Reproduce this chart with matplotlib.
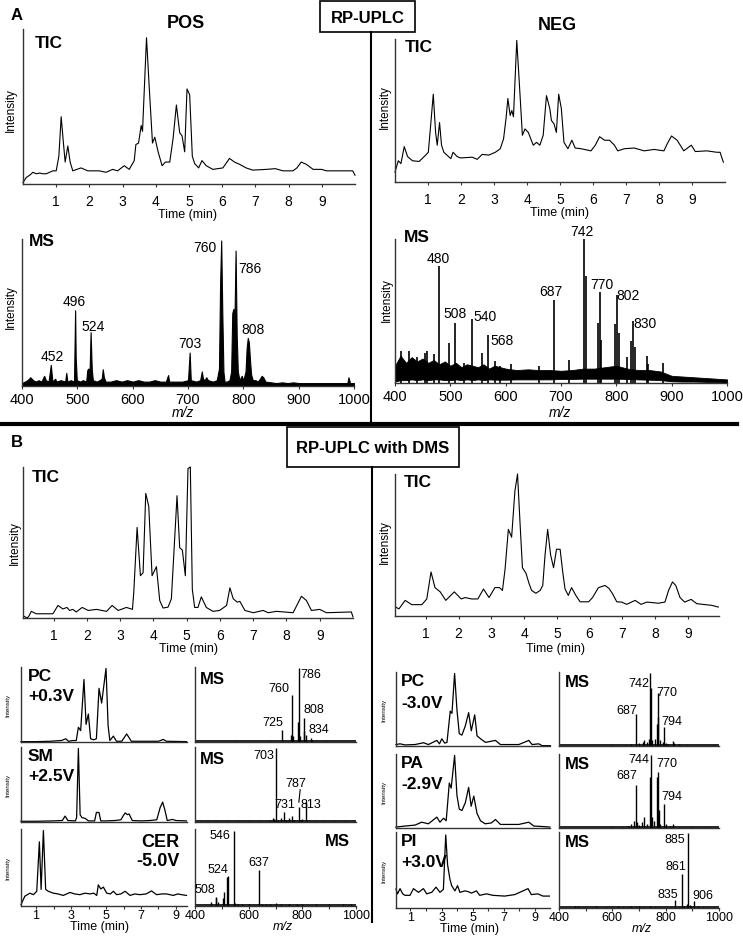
import matplotlib
matplotlib.use("Agg")
import matplotlib.pyplot as plt
from matplotlib.lines import Line2D
from matplotlib.patches import Rectangle
import numpy as np

plt.rcParams['font.family'] = ['Liberation Sans', 'DejaVu Sans']

W, H = 743, 937

# ---------------- data (time in min / m/z, relative intensity %) ----------------
# Panel A, RP-UPLC TIC
tic_pos_a = [(0, 1), (0.1, 4.5), (0.2, 6), (0.3, 8), (0.4, 7), (0.5, 7.5), (0.6, 7), (0.7, 7), (0.8, 8),
             (0.9, 9), (1.0, 9), (1.08, 19), (1.15, 46), (1.21, 30), (1.27, 15), (1.35, 26), (1.42, 15),
             (1.5, 9), (1.75, 11), (1.95, 9), (2.3, 9), (2.5, 8), (2.7, 10), (2.85, 9), (3.05, 12.5),
             (3.2, 10), (3.35, 16), (3.4, 27), (3.48, 28), (3.56, 40), (3.6, 36), (3.72, 100), (3.8, 67),
             (3.9, 28), (3.97, 32), (4.07, 22), (4.19, 12.5), (4.29, 15), (4.42, 15), (4.52, 31), (4.62, 54),
             (4.72, 35), (4.79, 33), (4.87, 22), (4.94, 65), (5.02, 61), (5.1, 19), (5.17, 14), (5.29, 11),
             (5.39, 16), (5.52, 12.5), (5.72, 10), (6.02, 11), (6.22, 17.5), (6.37, 15), (6.52, 13.5),
             (6.72, 11), (6.92, 9.5), (7.33, 10), (7.6, 10.5), (7.83, 9), (8.13, 9), (8.25, 11), (8.38, 15),
             (8.53, 13.5), (8.74, 10), (8.99, 10), (9.14, 9), (9.5, 9), (9.93, 9), (10, 6)]
tic_neg_a = [(0, 7), (0.1, 15), (0.18, 13), (0.28, 25), (0.38, 18), (0.53, 15), (0.73, 14.5), (0.93, 19),
             (1.01, 21), (1.08, 40), (1.16, 62), (1.23, 35), (1.28, 26), (1.35, 42), (1.41, 26), (1.48, 21),
             (1.69, 16.5), (1.76, 21), (1.88, 18), (1.98, 17), (2.34, 17.5), (2.49, 16), (2.64, 19.5),
             (2.84, 19), (3.04, 21), (3.19, 23.5), (3.29, 30.5), (3.37, 46), (3.42, 59), (3.49, 47),
             (3.54, 50.5), (3.59, 46), (3.69, 100), (3.79, 61), (3.86, 33), (3.94, 37.5), (4.04, 35),
             (4.19, 26), (4.29, 28), (4.39, 26), (4.49, 33), (4.59, 61), (4.69, 52), (4.74, 43.5), (4.82, 41),
             (4.89, 35), (4.96, 62), (5.04, 52), (5.12, 28), (5.24, 23.5), (5.36, 29.5), (5.46, 24),
             (5.64, 23.5), (5.94, 22), (6.07, 26), (6.2, 32), (6.35, 29.5), (6.5, 29.5), (6.65, 26),
             (6.75, 22), (6.95, 23.5), (7.25, 24), (7.55, 22), (7.85, 23), (8.15, 22), (8.25, 27),
             (8.38, 32.5), (8.55, 29.5), (8.75, 22), (8.98, 26), (9.1, 21.5), (9.45, 22), (9.75, 21),
             (9.85, 21), (9.95, 14)]

# Panel A, MS spectra
ms_pos_a = [(400, 2), (405, 3), (410, 4), (415, 6), (420, 4), (425, 3), (430, 4), (435, 3), (440, 7),
            (443, 4), (448, 3), (452, 14.5), (455, 3), (460, 5), (462, 3), (470, 4), (478, 3), (480, 9),
            (482, 3), (488, 4), (494, 3), (496, 52), (497, 20), (499, 4), (505, 3), (510, 4), (516, 3),
            (518, 11), (520, 12), (522, 8), (524, 37), (526, 12), (528, 4), (535, 3), (540, 4), (544, 5),
            (546, 11.5), (548, 6), (551, 3), (560, 3), (570, 4), (580, 3), (590, 4), (600, 3), (610, 4),
            (620, 3), (630, 3), (640, 4), (650, 3), (660, 3), (664, 7.5), (666, 3), (680, 3), (690, 3),
            (700, 4), (703, 23), (705, 4), (715, 3), (722, 4), (725, 10), (727, 5), (730, 4), (733, 6),
            (736, 4), (745, 3), (752, 4), (756, 12), (758, 70), (760, 100), (762, 50), (764, 10), (766, 3),
            (770, 3), (775, 4), (778, 10), (780, 50), (782, 53), (784, 45), (786, 93), (788, 35), (790, 10),
            (793, 4), (797, 7), (800, 4), (804, 10), (806, 26), (808, 33), (810, 30), (812, 18), (814, 8),
            (817, 4), (822, 4), (826, 3), (830, 5), (833, 7), (836, 6), (840, 3), (850, 2.5), (860, 2),
            (870, 2.5), (880, 2), (890, 2.5), (900, 2), (920, 2), (940, 2), (960, 2), (980, 2), (988, 2),
            (990, 6), (993, 2), (1000, 2)]
noise_mz_neg_a = [400, 410, 420, 430, 440, 450, 460, 470, 480, 490, 500, 510, 520, 530, 540, 550, 560,
                  570, 580, 590, 600, 620, 640, 660, 680, 700, 720, 740, 760, 780, 800, 820, 840, 860,
                  880, 900, 920, 940, 960, 980, 1000]
noise_hi_neg_a = [12, 19, 14, 18, 15, 17, 14, 16, 13, 15, 12, 14, 11, 13, 12, 11, 13, 10, 12, 11, 10, 9,
                  9.5, 9, 9, 8.5, 9, 10, 10, 11, 12, 10, 9, 9, 8, 5, 4.5, 4, 3.5, 3, 2.5]
noise_lo_neg_a = [1, 2, 2, 2.5, 2, 2.5, 2, 2.5, 2.5, 2, 2, 2.5, 2, 2.5, 2, 2.5, 2, 2.5, 2.3, 2.3, 2.3, 2.5,
                  2.5, 2.5, 2.5, 2.8, 2.8, 3, 3, 3, 3, 2.8, 2.5, 2.3, 2, 1.2, 1, 1, 0.8, 0.5, 0.3]
ms_neg_a = [(410, 22), (425, 22), (440, 18), (455, 21), (458, 22), (470, 20), (480, 81), (497, 28),
            (508, 42), (525, 14), (540, 44.5), (557, 20.5), (568, 33), (580, 15), (590, 12), (610, 13),
            (660, 12), (687, 57.6), (715, 16), (742, 100), (745, 74.5), (766, 42), (770, 63), (773, 30),
            (797, 41), (802, 61), (805, 35), (820, 18), (826, 29), (830, 43), (833, 25), (855, 19),
            (858, 13), (885, 14)]

# Panel B, RP-UPLC with DMS TIC
tic_pos_b = [(0.1, 1.3), (0.2, 0), (0.25, 1), (0.33, 4.4), (0.48, 2.8), (0.98, 2.8), (1.13, 8.3), (1.28, 6),
             (1.4, 7), (1.48, 5), (1.58, 5.7), (1.68, 4), (1.86, 7), (2.04, 5), (2.29, 5.7), (2.59, 4.4),
             (2.76, 8.3), (2.94, 5), (3.19, 7), (3.37, 5.7), (3.41, 17), (3.51, 60), (3.61, 28), (3.69, 30),
             (3.77, 82.5), (3.86, 74), (3.96, 28), (4.09, 34), (4.19, 11.6), (4.29, 6.6), (4.44, 7.2),
             (4.54, 12.7), (4.71, 81), (4.79, 46.5), (4.87, 45), (4.96, 28), (5.04, 99), (5.11, 100),
             (5.17, 19), (5.24, 7), (5.34, 7), (5.44, 14), (5.59, 7), (5.79, 4.4), (5.99, 5), (6.2, 8.3),
             (6.3, 20), (6.4, 12.7), (6.52, 10.5), (6.6, 11), (6.75, 5), (7.0, 3.5), (7.3, 5), (7.45, 3.5),
             (7.7, 4.4), (8.2, 3.5), (8.45, 14.4), (8.6, 11.6), (8.75, 5), (9.0, 5.7), (9.2, 3.5),
             (9.95, 4), (10, 0.7)]
tic_neg_b = [(0.08, 6.3), (0.18, 5), (0.37, 11), (0.57, 8), (0.88, 8), (1.03, 12), (1.16, 31), (1.28, 20),
             (1.44, 17), (1.61, 11), (1.87, 17), (2.08, 12), (2.2, 13), (2.4, 12), (2.59, 12), (2.76, 19),
             (2.93, 13), (3.11, 20), (3.25, 20), (3.34, 18), (3.42, 33), (3.52, 61), (3.62, 55.5),
             (3.72, 88), (3.8, 100), (3.88, 64), (3.95, 34), (4.06, 30), (4.15, 23), (4.23, 18), (4.36, 16),
             (4.49, 18), (4.57, 21.5), (4.64, 43), (4.72, 61), (4.81, 43), (4.9, 34), (4.99, 47), (5.1, 47),
             (5.18, 31), (5.25, 19), (5.35, 14.5), (5.45, 20), (5.58, 14.5), (5.71, 10), (5.97, 10),
             (6.09, 13), (6.27, 20), (6.47, 21.5), (6.59, 19.5), (6.7, 15.7), (6.83, 10), (6.98, 9.8),
             (7.13, 8.2), (7.39, 11), (7.57, 8.2), (7.75, 9.8), (8.1, 9), (8.3, 9.8), (8.41, 18), (8.53, 24),
             (8.63, 21.5), (8.76, 13), (8.9, 9.8), (9.1, 11.7), (9.27, 8.7), (9.53, 8), (9.73, 7.5),
             (9.93, 6.3)]

# Panel B, selected ion chromatograms at each compensation voltage
pc_pos_xic = [(0.14, 0.5), (1.0, 0.5), (1.8, 1), (2.45, 2), (2.7, 4.4), (2.85, 1), (3.1, 2), (3.3, 2),
              (3.42, 20), (3.55, 15.5), (3.74, 85), (3.86, 24), (3.99, 38), (4.12, 4.4), (4.3, 3),
              (4.45, 4.4), (4.6, 73), (4.75, 53), (5.0, 100), (5.12, 22), (5.22, 2), (5.42, 8), (5.6, 1),
              (5.9, 1), (6.18, 11), (6.45, 1), (8.0, 1), (8.28, 3.5), (8.45, 1), (9.6, 0.5)]
sm_pos_xic = [(0.14, 1), (1.0, 1), (2.0, 1.5), (2.5, 2), (2.66, 8), (2.82, 2), (3.25, 1.5), (3.32, 6),
              (3.42, 100), (3.52, 10), (3.62, 6), (3.8, 5), (4.0, 1.5), (4.35, 1.5), (4.45, 13), (4.6, 13),
              (4.7, 1.5), (5.0, 1.5), (5.5, 2), (5.85, 3), (6.0, 9), (6.1, 12.4), (6.22, 10), (6.32, 11),
              (6.5, 2), (7.0, 1.5), (7.5, 2), (7.9, 3), (8.1, 20), (8.24, 27), (8.38, 15), (8.5, 2),
              (8.8, 3.5), (9.0, 2), (9.6, 1.5)]
cer_neg_xic = [(0.14, 2), (0.36, 13), (0.65, 17), (0.85, 15), (1.04, 19.5), (1.19, 85), (1.29, 22),
               (1.42, 100), (1.55, 22), (1.7, 19.5), (1.99, 17), (2.25, 16), (2.56, 14), (2.94, 18),
               (3.2, 16), (3.51, 15), (3.8, 17), (4.08, 16), (4.3, 17), (4.47, 14), (4.56, 28), (4.7, 22.6),
               (4.85, 25), (5.04, 17), (5.25, 16), (5.42, 19.5), (5.61, 15), (5.85, 16), (6.09, 19.5),
               (6.37, 14), (6.65, 16), (6.94, 15), (7.3, 16), (7.6, 20), (7.89, 15), (8.2, 16), (8.46, 16),
               (8.85, 14), (9.1, 16), (9.32, 15), (9.6, 14)]
pc_neg_xic = [(0.08, 2), (0.34, 3), (0.66, 1.5), (1.3, 2), (1.84, 4.5), (2.16, 2), (2.7, 7.7), (2.87, 3),
              (3.02, 10), (3.2, 4), (3.35, 5), (3.56, 48), (3.67, 45), (3.84, 100), (3.99, 50), (4.14, 17),
              (4.31, 15), (4.53, 28), (4.74, 46), (4.91, 21), (5.13, 43), (5.28, 14), (5.5, 10), (5.82, 5),
              (6.46, 7.7), (6.78, 2), (7.96, 2), (8.6, 7.7), (8.81, 2), (9.24, 3), (9.45, 0.5), (9.98, 0.5)]
pa_neg_xic = [(0.08, 1.3), (0.66, 2.7), (1.3, 4), (1.73, 8), (2.16, 5.8), (2.7, 15), (2.9, 8), (3.13, 13.5),
              (3.3, 10), (3.5, 62), (3.62, 55), (3.84, 100), (3.99, 45), (4.14, 26), (4.31, 24), (4.53, 35),
              (4.74, 56), (4.9, 30), (5.07, 44), (5.28, 20), (5.5, 10), (5.8, 5.8), (6.2, 7), (6.46, 11.7),
              (6.78, 4.9), (7.5, 4.9), (7.96, 4.9), (8.6, 8), (8.92, 2.7), (9.5, 2), (9.95, 1.3)]
pi_pos_xic = [(0.08, 25.4), (0.18, 19), (0.34, 26), (0.51, 19), (0.66, 17), (0.98, 17), (1.2, 26),
              (1.52, 21), (1.84, 26), (2.05, 19), (2.37, 21), (2.65, 28), (2.9, 21), (3.12, 25), (3.27, 98),
              (3.39, 58), (3.54, 38.6), (3.65, 30), (3.86, 23), (4.03, 30), (4.18, 21), (4.5, 23), (4.7, 22),
              (4.92, 20), (5.24, 23), (5.45, 17), (5.88, 19), (6.3, 17), (7.05, 16), (7.7, 18), (8.55, 26),
              (8.76, 18), (9.18, 19), (9.5, 16), (9.92, 16)]

# Panel B, MS spectra (stick peaks)
pc_pos_ms = [(550, 1), (680, 2), (725, 16.5), (756, 10), (760, 64), (764, 8), (782, 27.5), (786, 100),
             (790, 8), (806, 15), (808, 33), (812, 10), (834, 6), (836, 3), (850, 2), (890, 1)]
sm_pos_ms = [(420, 1), (450, 1.5), (480, 1), (520, 1.5), (560, 1), (600, 1.5), (640, 1), (680, 3),
             (690, 5), (695, 4), (703, 100), (710, 3), (720, 5), (731, 13), (740, 3), (750, 5), (760, 8),
             (770, 3), (787, 20), (795, 3), (800, 4), (813, 27), (820, 2), (850, 1.5), (880, 1.5),
             (920, 1), (960, 1.5), (990, 1)]
cer_neg_ms = [(460, 5), (478, 12), (480, 11), (484, 5), (504, 10), (508, 19), (520, 39), (524, 40),
              (546, 100), (550, 4), (560, 3), (575, 2), (600, 2), (637, 47.5), (650, 2), (665, 3),
              (680, 2), (700, 4.5), (720, 2), (750, 2), (780, 2), (800, 3), (850, 2), (900, 2), (950, 2),
              (980, 2)]
pc_neg_ms = [(600, 1), (650, 2), (670, 3), (687, 44), (700, 4), (715, 6), (720, 8), (730, 5), (738, 10),
             (742, 100), (745, 80), (750, 8), (760, 10), (766, 30), (770, 73), (773, 40), (780, 8),
             (790, 6), (794, 26), (800, 4), (810, 3), (826, 7.5), (830, 4), (850, 3), (880, 2), (920, 2),
             (950, 1.5), (980, 1.5)]
pa_neg_ms = [(600, 1), (640, 2), (660, 3), (670, 6), (680, 10), (687, 59.6), (692, 8), (700, 4), (712, 8),
             (720, 15), (730, 6), (740, 70), (744, 100), (750, 15), (758, 10), (766, 70), (770, 77.5),
             (774, 25), (780, 6), (794, 32.7), (800, 5), (815, 3), (826, 6), (850, 2), (900, 1.5),
             (950, 1.5)]
pi_pos_ms = [(460, 3), (470, 3), (500, 2), (540, 3), (580, 2), (600, 2), (620, 3), (640, 2), (660, 2),
             (670, 3), (690, 2), (700, 3), (720, 2), (740, 3), (760, 2), (780, 2), (800, 2), (820, 2),
             (835, 11), (850, 2), (861, 46), (870, 3), (880, 5), (885, 100), (890, 4), (895, 3), (906, 9),
             (920, 3), (940, 2), (960, 2), (980, 2)]

time_ticks = list(range(1, 10))
mz_ticks = list(range(400, 1001, 100))

# ---------------- figure ----------------
fig = plt.figure(figsize=(W / 100, H / 100), dpi=100)


def pax(l, t, r, b, xlim, ylim=(0, 102)):
    ax = fig.add_axes([l / W, 1 - b / H, (r - l) / W, (b - t) / H])
    ax.patch.set_alpha(0)
    for s in ('top', 'right'):
        ax.spines[s].set_visible(False)
    for s in ('left', 'bottom'):
        ax.spines[s].set_color('#333333')
        ax.spines[s].set_linewidth(1.0)
    ax.set_yticks([])
    ax.set_xticks([])
    ax.set_xlim(*xlim)
    ax.set_ylim(*ylim)
    return ax


def ftext(x, y, s, **kw):
    kw.setdefault('ha', 'center')
    kw.setdefault('va', 'center')
    fig.text(x / W, 1 - y / H, s, **kw)


def fline(x1, y1, x2, y2, lw):
    fig.add_artist(Line2D([x1 / W, x2 / W], [1 - y1 / H, 1 - y2 / H], color='k', lw=lw))


def trace(ax, pts, lw=0.8):
    t, v = np.array(pts).T
    ax.plot(t, v, color='k', lw=lw, clip_on=False)


def sticks(ax, pts, lw=1.0):
    m, v = np.array(pts).T
    ax.vlines(m, 0, v, color='k', lw=lw)
    ax.axhline(0.8, color='k', lw=1.2)


def time_axis(ax, size=10, odd_only=False, pad=4.5, length=2.5):
    ax.set_xticks(time_ticks)
    labels = [str(i) if (not odd_only or i % 2) else '' for i in time_ticks]
    ax.set_xticklabels(labels)
    ax.tick_params(axis='x', direction='out', length=length, width=0.8, pad=pad, labelsize=size,
                   color='#333333')


def mz_axis(ax, size=10.5, every_other=False, pad=2, length=2.5):
    ax.set_xticks(mz_ticks)
    labels = [str(m) if (not every_other or m % 200 == 0) else '' for m in mz_ticks]
    ax.set_xticklabels(labels)
    ax.tick_params(axis='x', direction='out', length=length, width=0.8, pad=pad, labelsize=size,
                   color='#333333')


# ---------------- panel A ----------------
ftext(17, 15, 'A', fontsize=12, fontweight='bold')
ftext(186, 24, 'POS', fontsize=13, fontweight='bold')
ftext(557, 25, 'NEG', fontsize=13, fontweight='bold')
fig.add_artist(Rectangle((320 / W, 1 - 33 / H), 95 / W, 31 / H, fill=False, lw=1.2, color='k'))
ftext(367.5, 18.5, 'RP-UPLC', fontsize=12, fontweight='bold')
fline(371, 33, 371, 424, 1.5)
fline(0, 425, 737, 425, 3)

ax = pax(23, 30, 355, 185, (0, 10), (0, 106))
trace(ax, tic_pos_a)
time_axis(ax)
ftext(35, 43, 'TIC', ha='left', fontsize=12.5, fontweight='bold')
ftext(11, 110, 'Intensity', rotation=90, fontsize=8.5)
ftext(187, 215, 'Time (min)', fontsize=9)

ax = pax(395, 40, 725, 183, (0, 10), (0, 101))
trace(ax, tic_neg_a)
time_axis(ax)
ftext(405, 48, 'TIC', ha='left', fontsize=12.5, fontweight='bold')
ftext(385, 107, 'Intensity', rotation=90, fontsize=8.5)
ftext(559, 213, 'Time (min)', fontsize=9)

ax = pax(22, 240, 354, 387, (400, 1000), (0, 101))
m, v = np.array(ms_pos_a).T
ax.fill_between(m, 0, v, color='k', lw=0.8)
mz_axis(ax)
for s, x, y in [('452', 454, 20.7), ('496', 494, 58.6), ('524', 529, 41), ('703', 704, 29.4),
                ('760', 731, 95.4), ('786', 812, 81), ('808', 817, 39.5)]:
    ax.text(x, y, s, ha='center', va='center', fontsize=10)
ftext(29, 242, 'MS', ha='left', fontsize=12.5, fontweight='bold')
ftext(11, 307, 'Intensity', rotation=90, fontsize=8.5)
ftext(183, 413, 'm/z', fontsize=10, style='italic')

ax = pax(395, 240, 727, 384, (400, 1000), (0, 100))
ax.fill_between(noise_mz_neg_a, noise_lo_neg_a, noise_hi_neg_a, color='k', lw=0.6)
m, v = np.array(ms_neg_a).T
ax.vlines(m, 0, v, color='k', lw=1.2)
mz_axis(ax)
for s, x, y in [('480', 479, 87), ('508', 508, 48.6), ('540', 562, 46.8), ('568', 594, 30),
                ('687', 682, 63.7), ('742', 738, 105.8), ('770', 774, 69), ('802', 822, 61),
                ('830', 852, 41.4)]:
    ax.text(x, y, s, ha='center', va='center', fontsize=10, clip_on=False)
ftext(404, 238, 'MS', ha='left', fontsize=12.5, fontweight='bold')
ftext(387, 300, 'Intensity', rotation=90, fontsize=8.5)
ftext(560, 413, 'm/z', fontsize=10, style='italic')

# ---------------- panel B ----------------
ftext(17, 443, 'B', fontsize=12, fontweight='bold')
fig.add_artist(Rectangle((287 / W, 1 - 468 / H), 172 / W, 40 / H, fill=False, lw=1.2, color='k'))
ftext(373, 449, 'RP-UPLC with DMS', fontsize=12, fontweight='bold')
fline(372, 468, 372, 923, 1.5)

ax = pax(23, 468, 353, 619, (0.08, 10), (0, 100))
trace(ax, tic_pos_b)
time_axis(ax)
ftext(32, 478, 'TIC', ha='left', fontsize=12.5, fontweight='bold')
ftext(15, 543, 'Intensity', rotation=90, fontsize=8.5)
ftext(188, 649, 'Time (min)', fontsize=9)

ax = pax(395, 475, 719, 617, (0.06, 9.95), (0, 100))
trace(ax, tic_neg_b)
time_axis(ax)
ftext(404, 483, 'TIC', ha='left', fontsize=12.5, fontweight='bold')
ftext(385, 542, 'Intensity', rotation=90, fontsize=8.5)
ftext(555, 649, 'Time (min)', fontsize=9)

# left column: positive / negative mode lipid classes
left_rows = [(668, 743, pc_pos_xic, pc_pos_ms, 'PC', '+0.3V'),
             (748, 823, sm_pos_xic, sm_pos_ms, 'SM', '+2.5V'),
             (830, 907, cer_neg_xic, cer_neg_ms, 'CER', '-5.0V')]
for i, (top, bot, xic, ms, cls, cv) in enumerate(left_rows):
    axc = pax(21, top, 187, bot, (0.14, 9.63))
    trace(axc, xic, lw=0.9)
    ftext(8, (top + bot) / 2, 'Intensity', rotation=90, fontsize=4.5)
    axm = pax(195, top, 356, bot, (400, 1000))
    sticks(axm, ms)
    if i < 2:
        ftext(28, top + 9, cls, ha='left', fontsize=12.5, fontweight='bold')
        ftext(28, top + 29, cv, ha='left', fontsize=12.5, fontweight='bold')
        ftext(200, top + 11, 'MS', ha='left', fontsize=12, fontweight='bold')
    else:
        ftext(180, top + 13, cls, ha='right', fontsize=13, fontweight='bold')
        ftext(180, top + 32, cv, ha='right', fontsize=13, fontweight='bold')
        ftext(350, top + 12, 'MS', ha='right', fontsize=12, fontweight='bold')
        time_axis(axc, size=9, odd_only=True, pad=0.5, length=2)
        mz_axis(axm, size=9, every_other=True, pad=0.5, length=2)
    if i == 0:
        labels = [('786', 831, 93), ('760', 712, 73), ('808', 843, 45), ('725', 690, 27), ('834', 862, 17)]
    elif i == 1:
        labels = [('703', 656, 91), ('787', 775, 53), ('731', 735, 24), ('813', 831, 24)]
        axm.plot([792, 787], [44, 27], color='k', lw=0.8)
    else:
        labels = [('546', 494, 93.5), ('524', 487, 49), ('508', 437, 22.7), ('637', 637, 58.7)]
    for s, x, y in labels:
        axm.text(x, y, s, ha='center', va='center', fontsize=9)

ftext(100, 927, 'Time (min)', fontsize=9)
ftext(283, 927, 'm/z', fontsize=9, style='italic')

# right column: negative / positive mode lipid classes
right_rows = [(673, 747, pc_neg_xic, pc_neg_ms, 'PC', '-3.0V'),
              (755, 829, pa_neg_xic, pa_neg_ms, 'PA', '-2.9V'),
              (833, 909, pi_pos_xic, pi_pos_ms, 'PI', '+3.0V')]
for i, (top, bot, xic, ms, cls, cv) in enumerate(right_rows):
    axc = pax(396, top, 550, bot, (0.08, 9.96))
    trace(axc, xic, lw=0.9)
    ftext(384, (top + bot) / 2, 'Intensity', rotation=90, fontsize=4.5)
    axm = pax(559, top, 719, bot, (400, 1000))
    sticks(axm, ms)
    ftext(401, top + 9, cls, ha='left', fontsize=12.5, fontweight='bold')
    ftext(401, top + 30, cv, ha='left', fontsize=12.5, fontweight='bold')
    ftext(565, top + 10, 'MS', ha='left', fontsize=12, fontweight='bold')
    if i == 2:
        time_axis(axc, size=9, odd_only=True, pad=0.5, length=2)
        mz_axis(axm, size=9, every_other=True, pad=0.5, length=2)
    if i == 0:
        labels = [('742', 698, 86.5), ('770', 806, 75), ('687', 654, 50), ('794', 825, 34.6)]
    elif i == 1:
        labels = [('744', 698, 95.5), ('770', 806, 89), ('687', 654, 73), ('794', 825, 44)]
    else:
        labels = [('885', 836, 92), ('861', 840, 57), ('835', 807, 19), ('906', 941, 17)]
    for s, x, y in labels:
        axm.text(x, y, s, ha='center', va='center', fontsize=9, clip_on=False)

ftext(469, 929, 'Time (min)', fontsize=9)
ftext(642, 929, 'm/z', fontsize=9, style='italic')

fig.savefig('out.png', dpi=100)
